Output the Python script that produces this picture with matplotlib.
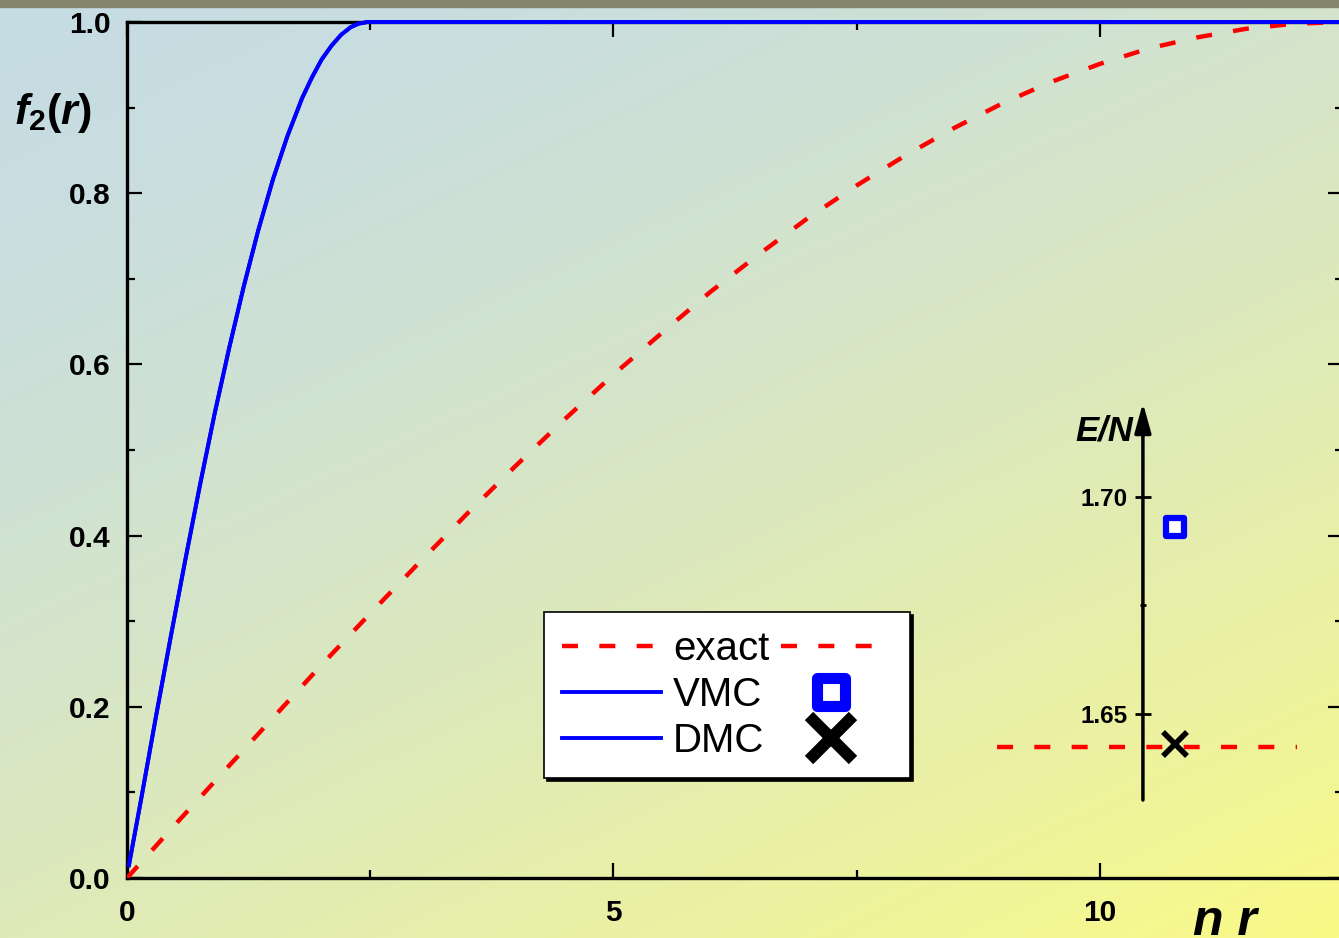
import numpy as np
import matplotlib
matplotlib.use('Agg')
import matplotlib.pyplot as plt
from matplotlib.lines import Line2D
from matplotlib.markers import MarkerStyle
from matplotlib.patches import Rectangle

plt.rcParams['font.family'] = ['Liberation Sans', 'DejaVu Sans']
plt.rcParams['mathtext.fontset'] = 'custom'
plt.rcParams['mathtext.it'] = 'Liberation Sans:italic:bold'
plt.rcParams['mathtext.rm'] = 'Liberation Sans:bold'
plt.rcParams['mathtext.bf'] = 'Liberation Sans:bold'

# ---------------- data ----------------
r_exact = [0.0, 0.5, 1.0, 1.5, 2.0, 2.5, 3.0, 3.5, 4.0, 4.5, 5.0, 5.5, 6.0, 6.5,
           7.0, 7.5, 8.0, 8.5, 9.0, 9.5, 10.0, 10.5, 11.0, 11.5, 12.0, 12.5]
f_exact = [0.0, 0.063, 0.125, 0.187, 0.249, 0.309, 0.368, 0.426, 0.482, 0.536,
           0.588, 0.637, 0.685, 0.729, 0.771, 0.809, 0.844, 0.876, 0.905, 0.930,
           0.951, 0.969, 0.982, 0.992, 0.998, 1.0]

r_vmc = [0.02, 0.15, 0.3, 0.45, 0.6, 0.75, 0.9, 1.05, 1.2, 1.35, 1.5, 1.65, 1.8,
         1.9, 2.0, 2.1, 2.2, 2.3, 2.38, 2.47, 12.5]
f_vmc = [0.015, 0.095, 0.190, 0.282, 0.372, 0.459, 0.542, 0.619, 0.691, 0.757,
         0.816, 0.867, 0.911, 0.935, 0.956, 0.972, 0.985, 0.994, 0.998, 1.0, 1.0]
f_dmc = f_vmc  # DMC curve coincides with VMC

en_labels = ['exact', 'VMC', 'DMC']
en_vmc = 1.693
en_dmc = 1.643
en_exact = 1.6425

x_ticks = [0, 5, 10]
x_ticklabels = ['0', '5', '10']
y_ticks = [0.0, 0.2, 0.4, 0.6, 0.8, 1.0]
y_ticklabels = ['0.0', '0.2', '0.4', '0.6', '0.8', '1.0']
en_ticks = [1.65, 1.70]
en_ticklabels = ['1.65', '1.70']

# ---------------- figure ----------------
W, H = 1339, 938
fig = plt.figure(figsize=(W / 100, H / 100), dpi=100)


def fx(px):
    return px / W


def fy(py):
    return 1 - py / H


# background gradient
bg = fig.add_axes([0, 0, 1, 1], zorder=-10)
u = np.linspace(0, 1, 400)[None, :]
v = np.linspace(0, 1, 300)[:, None]
t = np.clip(0.4 * u + 0.6 * v, 0, 1) ** 1.5
c0 = np.array([198, 220, 228]) / 255
c1 = np.array([250, 250, 135]) / 255
img = c0 + (c1 - c0) * t[..., None]
bg.imshow(img, aspect='auto', extent=[0, 1, 1, 0], interpolation='bilinear')
bg.set_xlim(0, 1)
bg.set_ylim(1, 0)
bg.axis('off')
bg.add_patch(Rectangle((0, 0), 1, 7 / H, color='#85856c'))

# main axes
ax = fig.add_axes([fx(127), fy(878), fx(1343) - fx(127), fy(22) - fy(878)])
ax.set_facecolor('none')
ax.plot(r_exact, f_exact, color='red', lw=3.2, dashes=(3.6, 4.8), zorder=3)
ax.plot(r_vmc, f_dmc, color='blue', lw=2.8, zorder=4, clip_on=False)
ax.plot(r_vmc, f_vmc, color='blue', lw=2.8, zorder=4, clip_on=False)
ax.set_xlim(0, 12.5)
ax.set_ylim(0, 1)
ax.set_xticks(x_ticks)
ax.set_xticklabels(x_ticklabels)
ax.set_xticks([2.5, 7.5], minor=True)
ax.set_yticks(y_ticks)
ax.set_yticklabels(y_ticklabels)
ax.set_yticks([0.1, 0.3, 0.5, 0.7, 0.9], minor=True)
ax.tick_params(which='both', direction='in', top=True, right=True, width=1.6,
               labelsize=21.5, colors='black')
ax.tick_params(which='major', length=11)
ax.tick_params(which='minor', length=6)
ax.tick_params(axis='x', pad=15)
ax.tick_params(axis='y', pad=12)
for s in ax.spines.values():
    s.set_linewidth(2.4)
for lab in ax.get_xticklabels() + ax.get_yticklabels():
    lab.set_fontweight('bold')

fig.text(fx(14), fy(113), r'$f_2\mathit{(r)}$', fontsize=31, ha='left', va='center')
fig.text(fx(1193), fy(935), 'n r', fontsize=36, style='italic', weight='bold',
         ha='left', va='baseline')

# legend
h_exact = Line2D([], [], color='red', lw=3.2, dashes=(3.6, 4.8))
h_line = Line2D([], [], color='blue', lw=2.8)
h_sq = Line2D([], [], ls='none', marker=MarkerStyle('s', joinstyle='round'), ms=20,
              mew=8, mec='blue', mfc='white')
h_x = Line2D([], [], ls='none', marker='x', ms=31, mew=8.5, color='black')
leg = fig.legend([h_exact, h_line, h_line, h_exact, h_sq, h_x],
                 en_labels + ['', '', ''], ncol=2, loc='upper left',
                 bbox_to_anchor=(fx(544), fy(612)), borderaxespad=0, fontsize=29,
                 handlelength=2.45, handletextpad=0.3, columnspacing=0.3,
                 labelspacing=0.2, borderpad=0.45, fancybox=False,
                 edgecolor='black', framealpha=1,
                 shadow={'facecolor': 'black', 'edgecolor': 'black', 'alpha': 1})
leg.get_frame().set_linewidth(1.2)

# inset energy axis
axi = fig.add_axes([fx(990), fy(800), fx(1300) - fx(990), fy(403) - fy(800)])
axi.set_facecolor('none')
axi.set_xlim(-4.78, 4.91)
axi.set_ylim(1.63018, 1.72166)
for s in ['top', 'right', 'bottom', 'left']:
    axi.spines[s].set_visible(False)
axi.spines['left'].set_position(('data', 0))
axi.annotate('', xy=(0, 1), xytext=(0, 0), xycoords=('data', 'axes fraction'),
             textcoords=('data', 'axes fraction'),
             arrowprops=dict(arrowstyle='-|>,head_length=0.9,head_width=0.25',
                             lw=2.5, color='black', mutation_scale=20,
                             shrinkA=0, shrinkB=0))
axi.set_xticks([])
axi.set_yticks(en_ticks)
axi.set_yticklabels(en_ticklabels)
axi.set_yticks([1.675], minor=True)
axi.tick_params(axis='y', which='major', direction='inout', length=12, width=2,
                labelsize=17.5, pad=5)
axi.tick_params(axis='y', which='minor', direction='inout', length=5, width=2)
for lab in axi.get_yticklabels():
    lab.set_fontweight('bold')
axi.plot([-4.56, 4.82], [en_exact, en_exact], color='red', lw=3.2,
         dashes=(3.6, 4.8), zorder=2)
axi.plot([1], [en_vmc], ls='none', marker=MarkerStyle('s', joinstyle='round'),
         ms=13, mew=4.5, mec='blue', mfc='white', zorder=3)
axi.plot([1], [en_dmc], ls='none', marker='x', ms=17, mew=4, color='black', zorder=3)
fig.text(fx(1104), fy(431), 'E/N', fontsize=25, style='italic', weight='bold',
         ha='center', va='center')

fig.savefig('out.png', dpi=100)
